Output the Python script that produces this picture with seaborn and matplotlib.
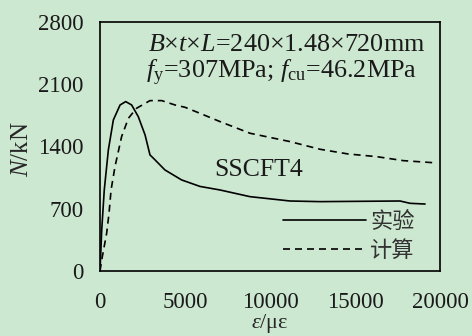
import numpy as np
import pandas as pd
import matplotlib
matplotlib.use("Agg")
import matplotlib.pyplot as plt
import seaborn as sns

# Load-strain curves (strain in micro-strain, load in kN)
test_strain = [0, 100, 250, 490, 785, 1180, 1510, 1860, 2250, 2650, 2940, 3140,
               3820, 4800, 5880, 7060, 8820, 11180, 12940, 17650, 18240, 19120]
test_load = [0, 461, 911, 1361, 1699, 1867, 1905, 1867, 1736, 1530, 1305, 1268,
             1136, 1024, 951, 911, 836, 787, 780, 787, 761, 753]

calc_strain = [0, 100, 390, 530, 650, 880, 1270, 1670, 2150, 2940, 3630, 4410,
               5000, 5880, 7060, 8820, 11180, 12940, 14590, 16270, 17840, 19590]
calc_load = [0, 124, 424, 649, 911, 1173, 1511, 1718, 1830, 1916, 1916, 1867,
             1841, 1773, 1680, 1549, 1455, 1369, 1316, 1286, 1241, 1218]

x_ticks = [0, 5000, 10000, 15000, 20000]
y_ticks = [0, 700, 1400, 2100, 2800]
series_names = ["实验", "计算"]

bg = "#cde8d1"
ink = "#1a1a1a"
sns.set_theme(style="white")
plt.rcParams["font.family"] = ["Liberation Serif", "Noto Sans CJK SC"]
plt.rcParams["mathtext.fontset"] = "custom"
plt.rcParams["mathtext.rm"] = "Liberation Serif"
plt.rcParams["mathtext.it"] = "Liberation Serif:italic"
plt.rcParams["text.color"] = ink

fig = plt.figure(figsize=(4.72, 3.36), dpi=100, facecolor=bg)
ax = fig.add_axes([0.2119, 0.1935, 0.7203, 0.741])
ax.set_facecolor(bg)

df_test = pd.DataFrame({"strain": test_strain, "load": test_load})
df_calc = pd.DataFrame({"strain": calc_strain, "load": calc_load})
sns.lineplot(data=df_test, x="strain", y="load", ax=ax, sort=False, color="black",
             linewidth=1.2, label=series_names[0])
sns.lineplot(data=df_calc, x="strain", y="load", ax=ax, sort=False, color="black",
             linewidth=1.2, linestyle=(0, (4.2, 3)), label=series_names[1])

ax.set_xlim(0, 20000)
ax.set_ylim(0, 2800)
ax.set_xticks(x_ticks)
ax.set_yticks(y_ticks)
ax.tick_params(direction="in", length=4, width=0.8, colors="black",
               labelcolor=ink, labelsize=16.5)
ax.tick_params(axis="y", pad=12)
ax.tick_params(axis="x", pad=15)
for s in ax.spines.values():
    s.set_color("black")
    s.set_linewidth(1.2)

ax.set_xlabel(r"$ε$/με", fontsize=16, va="center")
ax.xaxis.set_label_coords(0.5, -0.212)
ax.set_ylabel(r"$N$/kN", fontsize=18, va="center")
ax.yaxis.set_label_coords(-0.229, 0.49)

ax.text(0.141, 0.908, r"$B$×$t$×$L$=240×1.48×720mm", transform=ax.transAxes,
        fontsize=18.8, va="center", ha="left")
ax.text(0.135, 0.795, r"$f$$_{\rm y}$=307MPa; $f$$_{\rm cu}$=46.2MPa",
        transform=ax.transAxes, fontsize=18.8, va="center", ha="left")
ax.text(0.335, 0.406, "SSCFT4", transform=ax.transAxes, fontsize=18.5,
        va="center", ha="left")

leg = ax.legend(loc="lower right", bbox_to_anchor=(0.925, 0.035), frameon=False,
                handlelength=3.7, handletextpad=0.2, borderpad=0, borderaxespad=0,
                labelspacing=0.3, prop={"family": "Noto Sans CJK SC", "size": 16})
for t in leg.get_texts():
    t.set_color("#333333")

fig.savefig("out.png", dpi=100, facecolor=bg)
